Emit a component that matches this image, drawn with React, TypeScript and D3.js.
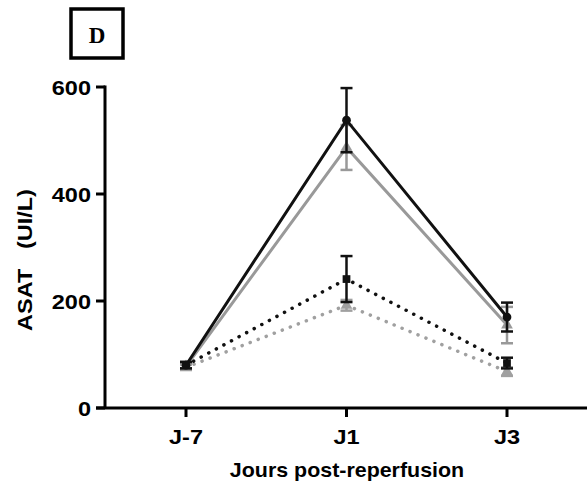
import React from "react";
import * as d3 from "d3";

const days = ["J-7", "J1", "J3"];
const yTicks = [0, 200, 400, 600];

const blackSolidMean = [80, 538, 170];
const blackSolidErr = [6, 60, 27];
const greySolidMean = [78, 487, 155];
const greySolidErr = [5, 42, 34];
const blackDotMean = [80, 241, 84];
const blackDotErr = [6, 43, 10];
const greyDotMean = [76, 192, 68];
const greyDotErr = [5, 10, 8];

const seriesList = [
  { name: "greyDot", mean: greyDotMean, err: greyDotErr, color: "#a0a0a0", dotted: true, marker: "triangle" },
  { name: "blackDot", mean: blackDotMean, err: blackDotErr, color: "#111", dotted: true, marker: "square" },
  { name: "greySolid", mean: greySolidMean, err: greySolidErr, color: "#999", dotted: false, marker: "triangle" },
  { name: "blackSolid", mean: blackSolidMean, err: blackSolidErr, color: "#111", dotted: false, marker: "circle" },
];

export default function App() {
  const W = 587, H = 495;
  const x = d3.scalePoint<string>().domain(days).range([186, 507]);
  const y = d3.scaleLinear().domain([0, 600]).range([408, 87]);
  const line = d3.line<number>().x((_, i) => x(days[i])!).y((d) => y(d));
  const font = "Arial, 'Liberation Sans', Helvetica, sans-serif";
  const sym = (m: string) =>
    d3.symbol().type(m === "circle" ? d3.symbolCircle : m === "square" ? d3.symbolSquare : d3.symbolTriangle).size(60)()!;

  return (
    <svg width={W} height={H} style={{ position: "absolute", left: 0, top: 0, background: "#fff" }}>
      <rect width={W} height={H} fill="#fff" />
      {/* panel label */}
      <rect x={71} y={9} width={52} height={49} fill="none" stroke="#000" strokeWidth={3.5} />
      <text x={97} y={43} textAnchor="middle" fontFamily="'Liberation Serif', 'Times New Roman', serif" fontWeight="bold" fontSize={23}>D</text>

      {/* series */}
      {seriesList.map((s) => (
        <g key={s.name}>
          <path d={line(s.mean)!} fill="none" stroke={s.color} strokeWidth={s.dotted ? 3.5 : 3}
            strokeDasharray={s.dotted ? "0.1 8.5" : undefined} strokeLinecap={s.dotted ? "round" : "butt"} />
          {s.mean.map((m, i) => {
            const cx = x(days[i])!;
            const e = s.err[i];
            return (
              <g key={i} stroke={s.color} strokeWidth={2.5} fill="none">
                <line x1={cx} x2={cx} y1={y(m - e)} y2={y(m + e)} />
                <line x1={cx - 6} x2={cx + 6} y1={y(m + e)} y2={y(m + e)} />
                <line x1={cx - 6} x2={cx + 6} y1={y(m - e)} y2={y(m - e)} />
              </g>
            );
          })}
          {s.mean.map((m, i) => (
            <path key={"m" + i} d={sym(s.marker)} transform={`translate(${x(days[i])},${y(m)})`} fill={s.color} />
          ))}
        </g>
      ))}

      {/* y axis */}
      <line x1={105} x2={105} y1={y(600) - 1.5} y2={y(0)} stroke="#000" strokeWidth={3} />
      {yTicks.map((t) => (
        <g key={t}>
          <line x1={96} x2={105} y1={y(t)} y2={y(t)} stroke="#000" strokeWidth={3} />
          <text transform={`translate(91,${y(t) + 8}) scale(1.12,1)`} textAnchor="end" fontFamily={font} fontWeight="bold" fontSize={21}>{t}</text>
        </g>
      ))}
      {/* x axis */}
      <line x1={96} x2={587} y1={y(0)} y2={y(0)} stroke="#000" strokeWidth={3} />
      {days.map((d) => (
        <g key={d}>
          <line x1={x(d)} x2={x(d)} y1={y(0)} y2={y(0) + 9} stroke="#000" strokeWidth={3} />
          <text transform={`translate(${x(d)},444) scale(1.12,1)`} textAnchor="middle" fontFamily={font} fontWeight="bold" fontSize={21}>{d}</text>
        </g>
      ))}
      <text transform="translate(347,477) scale(1.02,1)" textAnchor="middle" fontFamily={font} fontWeight="bold" fontSize={21}>Jours post-reperfusion</text>
      <text transform="translate(32,260) rotate(-90) scale(1.12,1)" textAnchor="middle" fontFamily={font} fontWeight="bold" fontSize={21} style={{ whiteSpace: "pre" }}>ASAT   (UI/L)</text>
    </svg>
  );
}
